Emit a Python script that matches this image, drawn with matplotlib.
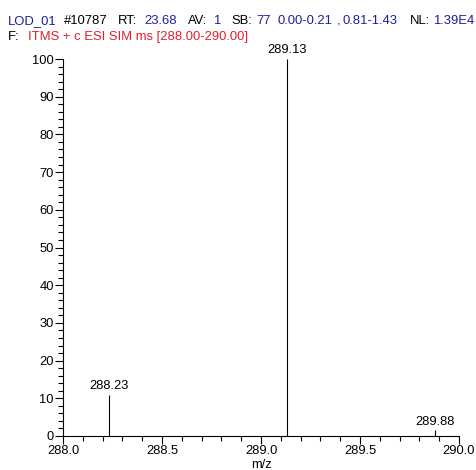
import matplotlib
matplotlib.use("Agg")
import matplotlib.pyplot as plt
from matplotlib.ticker import MultipleLocator

plt.rcParams['font.family'] = ['Liberation Sans', 'DejaVu Sans']

# spectrum peaks
mz = [288.23, 289.13, 289.88]
intensity = [10.9, 100.0, 1.5]
peak_labels = ["288.23", "289.13", "289.88"]

# header pieces (text, colour, x pixel)
blue = "#1f1f99"
red = "#e0202a"
line1 = [("LOD_01", blue, 8), ("#10787", "black", 64), ("RT:", "black", 118),
         ("23.68", blue, 144), ("AV:", "black", 188), ("1", blue, 213),
         ("SB:", "black", 231), ("77", blue, 256), ("0.00-0.21", blue, 277),
         (",", blue, 337), ("0.81-1.43", blue, 343), ("NL:", "black", 410),
         ("1.39E4", blue, 433)]
line2 = [("F:", "black", 8), ("ITMS + c ESI SIM ms [288.00-290.00]", red, 28)]

W, H = 477, 470
fig = plt.figure(figsize=(W / 100, H / 100), dpi=100)
ax = fig.add_axes([63 / W, 1 - 436 / H, (459 - 63) / W, (436 - 59) / H])

ax.vlines(mz, 0, intensity, color="black", linewidth=0.8)
for x, y, s in zip(mz, intensity, peak_labels):
    ax.annotate(s, (x, y), xytext=(0, 2), textcoords="offset points",
                ha="center", va="bottom", fontsize=9.3)

ax.set_xlim(288.0, 290.0)
ax.set_ylim(0, 100)
ax.xaxis.set_major_locator(MultipleLocator(0.5))
ax.xaxis.set_minor_locator(MultipleLocator(0.1))
ax.yaxis.set_major_locator(MultipleLocator(10))
ax.yaxis.set_minor_locator(MultipleLocator(2))
ax.xaxis.set_major_formatter(matplotlib.ticker.FormatStrFormatter("%.1f"))

for side in ["top", "right"]:
    ax.spines[side].set_visible(False)
for side in ["left", "bottom"]:
    ax.spines[side].set_linewidth(0.8)

ax.tick_params(which="major", length=5.5, width=0.8, labelsize=9.3, pad=1)
ax.tick_params(which="minor", length=3.4, width=0.8)
ax.set_xlabel("m/z", fontsize=9.3, labelpad=1.5)

for s, c, x in line1:
    fig.text(x / W, 1 - 24 / H, s, color=c, fontsize=9.4, va="baseline", ha="left")
for s, c, x in line2:
    fig.text(x / W, 1 - 40 / H, s, color=c, fontsize=9.4, va="baseline", ha="left")

fig.savefig("out.png", dpi=100)
